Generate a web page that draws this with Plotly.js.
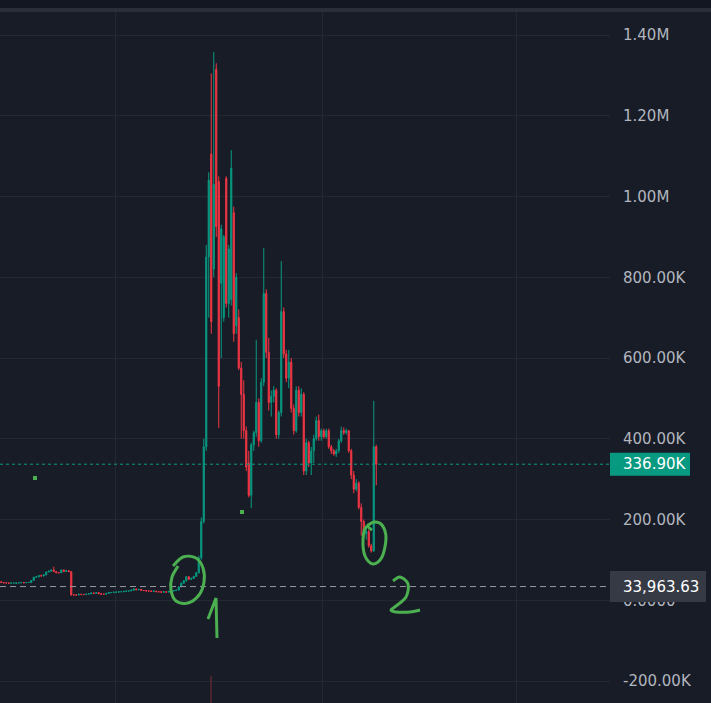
<!DOCTYPE html>
<html>
<head>
<meta charset="utf-8">
<script src="https://cdn.plot.ly/plotly-3.0.1.min.js"></script>
<style>html,body{margin:0;padding:0;background:#181c27;}#chart{width:711px;height:703px;}</style>
</head>
<body>
<div id="chart"></div>
<script>
// ---- data (values in thousands) ----
const openK = [46,44,43,43,42,43,42,43,43,44,43,44,44,49,57,58,61,60,63,70,72,75,71,68,68,75,71,73,71,13,13,13,15,14,14,15,16,18,17,19,16,15,15,17,19,19,20,20,21,21,22,23,23,25,28,26,27,24,24,23,23,22,23,21,21,20,21,20,22,23,24,25,33,42,48,58,52,54,59,68,105,195,380,850,1105,820,1315,1037,785,700,1045,735,745,960,680,700,575,510,420,340,260,385,415,490,395,540,760,614,490,505,520,410,465,715,610,550,590,475,420,520,465,510,320,390,340,370,400,445,405,420,405,420,380,370,362,370,395,420,415,420,370,310,275,290,230,195,165,170,135,122,380];
const highK = [47,44,44,43,43,43,43,44,44,44,44,45,50,58,59,62,63,64,71,73,76,83,72,69,76,76,74,75,71,14,14,16,15,15,16,17,19,19,20,19,17,16,18,20,20,21,21,22,22,23,24,24,26,29,29,28,27,25,25,24,24,24,23,22,22,22,21,23,24,25,26,34,44,50,60,60,56,60,70,110,205,400,880,1060,1305,1358,1330,1050,930,905,1050,880,1115,975,810,720,590,545,430,370,390,420,645,500,550,872,770,650,520,530,525,470,840,725,620,620,600,485,530,530,525,515,400,395,380,410,455,460,425,425,425,425,385,375,375,400,430,428,425,422,375,320,300,295,240,200,180,175,140,494,385];
const lowK = [44,43,42,42,42,42,40,42,43,43,43,43,44,49,56,57,59,59,62,69,71,70,67,67,68,70,70,70,12,12,12,13,13,13,14,15,16,16,17,16,15,14,15,17,18,18,19,20,20,21,22,22,23,24,25,25,24,23,22,22,21,21,21,20,19,20,19,20,21,22,23,25,33,41,46,50,50,53,58,66,100,190,370,700,660,800,900,427,600,690,725,700,730,640,660,570,400,400,320,255,228,370,405,380,390,530,600,470,455,490,400,400,455,600,540,525,465,410,415,455,455,310,310,330,310,340,395,395,395,400,400,375,362,358,355,365,390,410,410,365,300,265,270,225,160,155,150,130,118,120,285];
const closeK = [44,43,43,42,43,43,43,43,44,43,44,44,49,57,58,61,60,63,70,72,75,71,68,68,75,71,73,71,13,13,13,15,14,14,15,16,18,17,19,16,15,15,17,19,19,20,20,21,21,22,23,23,25,28,26,27,24,24,23,23,22,23,21,21,20,21,20,22,23,24,25,33,42,48,58,52,54,59,68,105,195,380,850,1040,690,1030,925,530,920,900,735,870,1070,660,800,575,510,420,330,260,385,415,490,395,540,760,614,490,505,520,410,465,715,610,550,590,475,420,520,465,510,320,390,340,370,400,445,405,420,405,420,380,370,362,370,395,420,415,420,370,310,275,290,230,195,165,170,135,122,380,336.9];

const tickVals = [-200000, 0, 200000, 400000, 600000, 800000, 1000000, 1200000, 1400000];
const tickText = ["-200.00K", "0.0000", "200.00K", "400.00K", "600.00K", "800.00K", "1.00M", "1.20M", "1.40M"];
const gridX = [45.7, 128.3, 205.9];

const lastPrice = 336900;
const lastPriceLabel = "336.90K";
const refLevel = 33963.63;
const refLevelLabel = "33,963.63";

// stray green dots and a dark red tick at the bottom
const dotX = [13.5, 96.3];
const dotY = [302800, 218600];
const tickMarkX = [83.9, 83.9];
const tickMarkY = [-187000, -260000];

const idx = openK.map((_, i) => i);
const k = v => v * 1000;

// ---- hand-drawn annotation strokes (pixel space, converted to paper) ----
const PW = 610, PH = 691, PT = 12;
function toPaper(p) { return [p[0] / PW, 1 - (p[1] - PT) / PH]; }
function smoothPath(pxPts) {
  const pts = pxPts.map(toPaper);
  let d = 'M ' + pts[0][0] + ',' + pts[0][1];
  for (let i = 0; i < pts.length - 1; i++) {
    const p0 = pts[i - 1] || pts[i], p1 = pts[i], p2 = pts[i + 1], p3 = pts[i + 2] || pts[i + 1];
    const c1 = [p1[0] + (p2[0] - p0[0]) / 6, p1[1] + (p2[1] - p0[1]) / 6];
    const c2 = [p2[0] - (p3[0] - p1[0]) / 6, p2[1] - (p3[1] - p1[1]) / 6];
    d += ' C ' + c1[0] + ',' + c1[1] + ' ' + c2[0] + ',' + c2[1] + ' ' + p2[0] + ',' + p2[1];
  }
  return d;
}
function linePath(pxPts) {
  const pts = pxPts.map(toPaper);
  return pts.map((p, i) => (i ? 'L ' : 'M ') + p[0] + ',' + p[1]).join(' ');
}
const circle1 = [[173,566],[183,557],[196,558],[203,568],[204,582],[199,595],[188,603],[176,601],[171,590],[172,577],[178,566]];
const one = [[208,619],[216,598],[217,638]];
const circle2 = [[372,530],[366,527],[363,540],[365,556],[373,564],[382,557],[386,538],[382,525],[374,522],[367,526]];
const two = [[393,581],[400,577],[408,584],[406,597],[396,606],[391,610],[396,612],[410,612],[420,610]];

const green = '#089981', red = '#f23645', pen = '#4caf50';

const traces = [
  {
    type: 'candlestick', x: idx,
    open: openK.map(k), high: highK.map(k), low: lowK.map(k), close: closeK.map(k),
    increasing: { line: { color: green, width: 1 }, fillcolor: green },
    decreasing: { line: { color: red, width: 1 }, fillcolor: red },
    whiskerwidth: 0, hoverinfo: 'skip', showlegend: false
  },
  {
    type: 'scatter', mode: 'lines', x: tickMarkX, y: tickMarkY,
    line: { color: '#7a2b37', width: 1 }, hoverinfo: 'skip', showlegend: false
  },
  {
    type: 'scatter', mode: 'markers', x: dotX, y: dotY,
    marker: { color: pen, size: 4, symbol: 'square' }, hoverinfo: 'skip', showlegend: false
  }
];

const penLine = { color: pen, width: 3 };
const shapes = [
  { type: 'rect', xref: 'paper', yref: 'paper', x0: 0, x1: 711 / PW, y0: 1 + 4 / PH, y1: 1 + 12 / PH, fillcolor: '#131722', line: { width: 0 } },
  { type: 'rect', xref: 'paper', yref: 'paper', x0: 0, x1: 711 / PW, y0: 1, y1: 1 + 4 / PH, fillcolor: '#2a2e39', line: { width: 0 } },
  { type: 'line', xref: 'paper', yref: 'y', x0: 0, x1: 1, y0: lastPrice, y1: lastPrice, line: { color: green, width: 1, dash: 'dot' }, layer: 'above' },
  { type: 'line', xref: 'paper', yref: 'y', x0: 0, x1: 1, y0: refLevel, y1: refLevel, line: { color: '#9598a1', width: 1, dash: '6px,4px' }, layer: 'above' },
  { type: 'rect', xref: 'paper', yref: 'y', ysizemode: 'pixel', yanchor: lastPrice, x0: 1, x1: 1 + 80 / PW, y0: -11.5, y1: 11.5, fillcolor: green, line: { width: 0 }, layer: 'above' },
  { type: 'rect', xref: 'paper', yref: 'y', ysizemode: 'pixel', yanchor: refLevel, x0: 1, x1: 1 + 96 / PW, y0: -15.5, y1: 15.5, fillcolor: '#363a45', line: { width: 0 }, layer: 'above' },
  { type: 'path', xref: 'paper', yref: 'paper', path: smoothPath(circle1), line: penLine, layer: 'above' },
  { type: 'path', xref: 'paper', yref: 'paper', path: linePath(one), line: penLine, layer: 'above' },
  { type: 'path', xref: 'paper', yref: 'paper', path: smoothPath(circle2), line: penLine, layer: 'above' },
  { type: 'path', xref: 'paper', yref: 'paper', path: smoothPath(two), line: penLine, layer: 'above' }
];

const labelFont = { family: 'DejaVu Sans', size: 15, color: '#ffffff' };
const annotations = [
  { xref: 'paper', yref: 'y', x: 1, y: lastPrice, xanchor: 'left', yanchor: 'middle', xshift: 11, text: lastPriceLabel, showarrow: false, font: labelFont },
  { xref: 'paper', yref: 'y', x: 1, y: refLevel, xanchor: 'left', yanchor: 'middle', xshift: 11, text: refLevelLabel, showarrow: false, font: labelFont }
];

const layout = {
  width: 711, height: 703,
  margin: { l: 0, r: 101, t: 12, b: 0, pad: 0 },
  paper_bgcolor: '#181c27', plot_bgcolor: '#181c27',
  showlegend: false, boxgap: 0.35,
  xaxis: {
    range: [-0.5, 243.5], tickvals: gridX, showticklabels: false, ticks: '',
    showgrid: true, gridcolor: '#242833', gridwidth: 1, zeroline: false, showline: false,
    rangeslider: { visible: false }, fixedrange: true
  },
  yaxis: {
    side: 'right', range: [-254500, 1457000], tickvals: tickVals, ticktext: tickText,
    showgrid: true, gridcolor: '#242833', gridwidth: 1, zeroline: false, showline: false,
    ticks: '', ticklabelstandoff: 12,
    tickfont: { family: 'DejaVu Sans', size: 15, color: '#b2b5be' }, fixedrange: true
  },
  shapes: shapes,
  annotations: annotations
};

Plotly.newPlot('chart', traces, layout, { displayModeBar: false, staticPlot: true });
</script>
</body>
</html>
